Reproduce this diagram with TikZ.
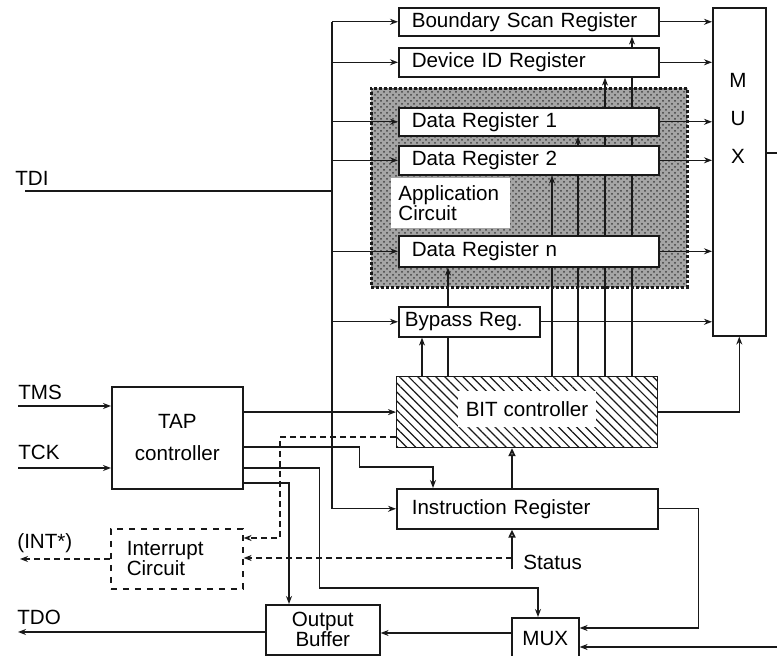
\documentclass[tikz,border=0pt]{standalone}
\usepackage{fontspec}
\setmainfont{Liberation Sans}
\usetikzlibrary{arrows.meta, positioning, calc, backgrounds, patterns, patterns.meta}
\definecolor{appgray}{RGB}{165,165,165}
\definecolor{bordercolor}{RGB}{25,25,25}
\tikzset{
  base/.style={draw=bordercolor, line width=0.8pt, inner sep=0pt,
               font=\fontsize{10.3}{10}\selectfont},
  reg/.style={base, fill=white, anchor=north west, align=left,
              inner xsep=6.5pt, text width=117pt},
  box/.style={base, fill=white, anchor=north west, align=center},
  appbox/.style={draw=bordercolor, line width=1.3pt, dash pattern=on 1.5pt off 1pt,
                 anchor=north west, preaction={fill=appgray},
                 pattern=crosshatch dots, pattern color=black!75},
  bitbox/.style={base, anchor=north west, preaction={fill=white},
                 pattern={Lines[angle=-45, distance=3.2pt, line width=0.6pt]},
                 pattern color=bordercolor},
  lbl/.style={inner sep=0pt, font=\fontsize{10.3}{10}\selectfont},
  line/.style={line width=0.7pt, draw=bordercolor},
  arr/.style={-{Stealth[length=4pt, width=3pt]}, line width=0.7pt, draw=bordercolor},
  darr/.style={arr, dash pattern=on 3pt off 2pt},
  oarr/.style={-{Triangle[open, length=4pt, width=3.5pt]}, line width=0.9pt, draw=bordercolor},
}

\begin{document}
\begin{tikzpicture}[x=0.5pt, y=-0.5pt]
  \useasboundingbox (0,0) rectangle (777,656);

  % Registers
  \node[reg, minimum height=14pt] (bsr) at (398,7) {Boundary Scan Register};
  \node[reg, minimum height=14.5pt] (devid) at (398,47) {Device ID Register};
  \node[reg, minimum height=14pt] (dr1) at (398,107) {Data Register 1};
  \node[reg, minimum height=14.5pt] (dr2) at (398,145) {Data Register 2};
  \node[reg, minimum height=15.5pt] (drn) at (398,235) {Data Register n};
  \node[reg, text width=64.5pt, inner xsep=3pt, minimum height=15pt] (bypass) at (398,306) {Bypass Reg.};
  \node[lbl, fill=white, anchor=north west, align=left, inner sep=3.5pt,
        text width=52.5pt, minimum height=22pt] (applbl) at (391,178) {Application\\Circuit};

  % MUX
  \node[box, minimum width=26.5pt, minimum height=164pt] (mux) at (712,7) {};
  \node[lbl, align=center] (muxlbl) at (738,118) {M\\[9pt]U\\[9pt]X};

  % Controllers
  \node[bitbox, minimum width=130.5pt, minimum height=35.5pt] (bit) at (396,376) {};
  \node[lbl, fill=white, inner xsep=4pt, inner ysep=5pt] (bitlbl) at (527,409) {BIT controller};
  \node[reg, text width=115.5pt, inner xsep=7.5pt, minimum height=20pt] (ir) at (396,488) {Instruction Register};
  \node[box, minimum width=65.5pt, minimum height=51pt] (tap) at (111,386) {TAP\\[6pt]controller};
  \node[box, dashed, align=left, inner xsep=8pt, text width=50pt, minimum height=30pt] (intr) at (110,528) {Interrupt\\Circuit};
  \node[box, minimum width=57pt, minimum height=25pt] (obuf) at (265,604) {Output\\Buffer};
  \node[box, minimum width=33.5pt, minimum height=21pt] (smux) at (511,617) {MUX};

  % Pins
  \node[lbl, anchor=west] (tdilbl) at (15,178) {TDI};
  \node[lbl, anchor=west] (tmslbl) at (18,392) {TMS};
  \node[lbl, anchor=west] (tcklbl) at (18,452) {TCK};
  \node[lbl, anchor=west] (intlbl) at (17,543) {(INT*)};
  \node[lbl, anchor=west] (tdolbl) at (17,617) {TDO};
  \node[lbl, anchor=west] (stslbl) at (523,562) {Status};

  \coordinate (tdiin) at (25,191);
  \coordinate (bus) at (332,191);
  \coordinate (tmsin) at (18,406);
  \coordinate (tckin) at (18,468);
  \coordinate (intout) at (20,559);
  \coordinate (tdoout) at (18,632);
  \coordinate (status) at (512,569);
  \coordinate (muxout) at (777,153);
  \coordinate (muxback) at (777,647);

  % Application circuit and BIT control lines (behind the registers)
  \begin{scope}[on background layer]
    \node[appbox, minimum width=158pt, minimum height=99.5pt] (app) at (370,87) {};
    \foreach \d/\r in {26/bypass, 52/drn, 156/dr2, 182/dr1, 209/devid, 236/bsr} {
      \path ($(bit.north west)+(\d,0)$) coordinate (bp);
      \draw[arr] (bp) -- (bp |- \r.south);
    }
  \end{scope}

  % TDI bus
  \draw[line] (tdiin) -- (bus);
  \draw[arr] (bsr.west -| bus) |- (ir.west);
  \draw[arr] (bsr.west -| bus) -- (bsr.west);
  \foreach \r in {devid, dr1, dr2, drn, bypass}
    \draw[arr] (\r.west -| bus) -- (\r.west);

  % Registers to MUX
  \foreach \r in {bsr, devid, dr1, dr2, drn, bypass}
    \draw[arr] (\r.east) -- (\r.east -| mux.west);
  \draw[arr] (bit.east) -| (mux.south);
  \draw[line] (muxout -| mux.east) -- (muxout);

  % TAP controller
  \draw[arr] (tmsin) -- (tmsin -| tap.west);
  \draw[arr] (tckin) -- (tckin -| tap.west);
  \draw[arr] (tap.east |- bit.west) -- (bit.west);
  \draw[arr] ($(tap.north east)+(0,61)$) -- ++(116,0) -- ++(0,20) -| ($(ir.north west)+(37,0)$);
  \draw[arr] ($(tap.north east)+(0,82)$) -- ++(76,0) -- ++(0,120) -| ($(smux.north west)+(27,0)$);
  \draw[arr] ($(tap.north east)+(0,97)$) -| ($(obuf.north west)+(24,0)$);

  % Interrupt
  \draw[darr] ($(bit.north west)+(0,61)$) -- ++(-116,0) |- ($(intr.north east)+(0,10)$);
  \path ($(intr.north east)+(0,30)$) coordinate (intin);
  \draw[darr] (intin -| status) -- (intin);
  \draw[darr] (intout -| intr.west) -- (intout);

  % Status and instruction register
  \draw[oarr] (status) -- (status |- ir.south);
  \draw[oarr] (status |- ir.north) -- (status |- bit.south);
  \draw[arr] (ir.east) -- ++(40,0) |- ($(smux.north east)+(0,11)$);
  \draw[arr] (muxback) -- (muxback -| smux.east);

  % Output
  \path ($(smux.north west)+(0,16)$) coordinate (smuxout);
  \draw[arr] (smuxout) -- (smuxout -| obuf.east);
  \draw[arr] (tdoout -| obuf.west) -- (tdoout);
\end{tikzpicture}
\end{document}
